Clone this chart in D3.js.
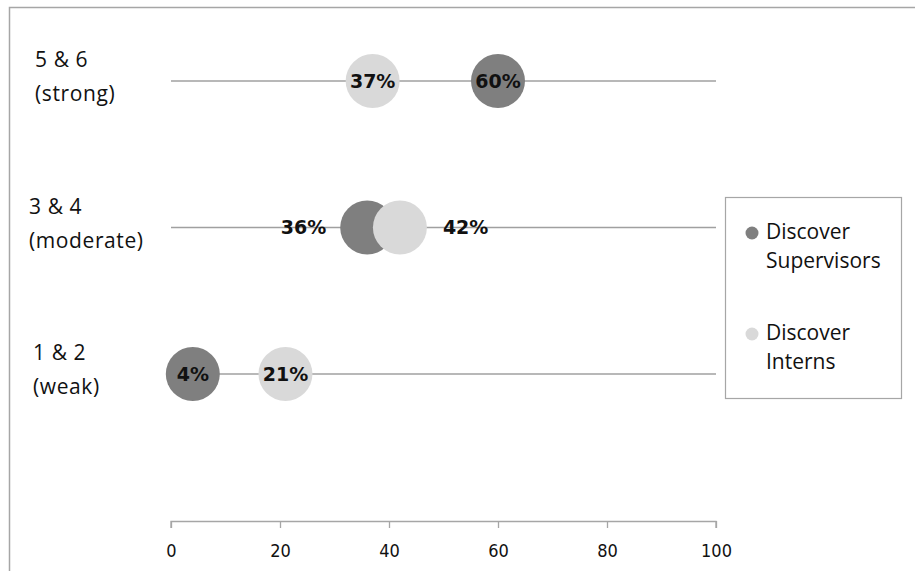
<!DOCTYPE html>
<html>
<head>
<meta charset="utf-8">
<script src="https://cdn.jsdelivr.net/npm/d3@7"></script>
<style>
  html, body { margin: 0; padding: 0; background: #fff; }
  svg { display: block; }
</style>
</head>
<body>
<svg id="chart" width="915" height="571"></svg>
<script>
// Rating groups (top to bottom) and share of respondents per group
const categories = ["5 & 6|(strong)", "3 & 4|(moderate)", "1 & 2|(weak)"];
const supervisors = [60, 36, 4];
const interns = [37, 42, 21];
const seriesNames = ["Discover|Supervisors", "Discover|Interns"];
const tickValues = [0, 20, 40, 60, 80, 100];

const colors = ["#7f7f7f", "#d9d9d9"];
const W = 915, H = 571;
const svg = d3.select("#chart");

// outer frame
svg.append("path")
  .attr("d", `M9.5,${H} V7.5 H${W}`)
  .attr("fill", "none").attr("stroke", "#a6a6a6").attr("stroke-width", 1.5);

const x = d3.scaleLinear().domain([0, 100]).range([171, 716]);
const y = d3.scalePoint().domain(categories).range([81, 374]);
const r = 27;

// x axis
const axis = d3.axisBottom(x).tickValues(tickValues).tickSize(7).tickPadding(16).tickFormat(d3.format("d"));
const ag = svg.append("g").attr("transform", "translate(0,521)").call(axis);
ag.select(".domain").attr("stroke", "#a6a6a6").attr("stroke-width", 1.3)
  .attr("d", `M${x(0)},7V0.5H${x(100)}V7`);
ag.selectAll(".tick line").attr("stroke", "#a6a6a6").attr("stroke-width", 1.3);
ag.selectAll(".tick text").attr("fill", "#111")
  .attr("font-family", "DejaVu Sans, sans-serif").attr("font-size", 18)
  .style("font-stretch", "condensed");

// row guide lines
svg.append("g").selectAll("line").data(categories).join("line")
  .attr("x1", x(0)).attr("x2", x(100))
  .attr("y1", d => y(d)).attr("y2", d => y(d))
  .attr("stroke", "#a0a0a0").attr("stroke-width", 1.3);

// category labels (two lines each)
const catX = [35, 29, 33];
const catG = svg.append("g");
categories.forEach((c, i) => {
  const t = catG.append("text")
    .attr("font-family", "'Open Sans', sans-serif").attr("font-size", 21).attr("fill", "#111")
    .attr("y", y(c) - 14).style("letter-spacing", "0.6px");
  c.split("|").forEach((l, j) => t.append("tspan").attr("x", catX[i]).attr("dy", j === 0 ? 0 : 34).text(l));
});

// dots: supervisors first, interns on top
const series = [supervisors, interns];
series.forEach((vals, s) => {
  svg.append("g").selectAll("circle").data(vals).join("circle")
    .attr("cx", d => x(d)).attr("cy", (d, i) => y(categories[i]))
    .attr("r", r).attr("fill", colors[s]);
});

// value labels: centred in the dot unless the two dots overlap
const labelG = svg.append("g")
  .attr("font-family", "DejaVu Sans, sans-serif").attr("font-weight", "bold")
  .attr("font-size", 19).attr("fill", "#111");
categories.forEach((c, i) => {
  const a = supervisors[i], b = interns[i];
  const overlap = Math.abs(x(a) - x(b)) < 2 * r;
  [[a, 0], [b, 1]].forEach(([v, s]) => {
    let cx = x(v), anchor = "middle";
    if (overlap) {
      const other = s === 0 ? b : a;
      if (v <= other) { cx = x(v) - r - 14; anchor = "end"; }
      else { cx = x(v) + r + 16; anchor = "start"; }
    }
    labelG.append("text").attr("x", cx).attr("y", y(c)).attr("dy", "0.36em")
      .attr("text-anchor", anchor).text(v + "%");
  });
});

// legend
const lg = svg.append("g");
lg.append("rect").attr("x", 725.5).attr("y", 197.5).attr("width", 176).attr("height", 201)
  .attr("fill", "#fff").attr("stroke", "#a6a6a6").attr("stroke-width", 1.2);
seriesNames.forEach((n, i) => {
  const yy = 233 + i * 101;
  lg.append("circle").attr("cx", 752).attr("cy", yy).attr("r", 6.5).attr("fill", colors[i]);
  const t = lg.append("text").attr("font-family", "'Open Sans', sans-serif")
    .attr("font-size", 21).attr("fill", "#111").attr("y", yy + 6);
  n.split("|").forEach((l, j) => t.append("tspan").attr("x", 766).attr("dy", j === 0 ? 0 : 29).text(l));
});
</script>
</body>
</html>
